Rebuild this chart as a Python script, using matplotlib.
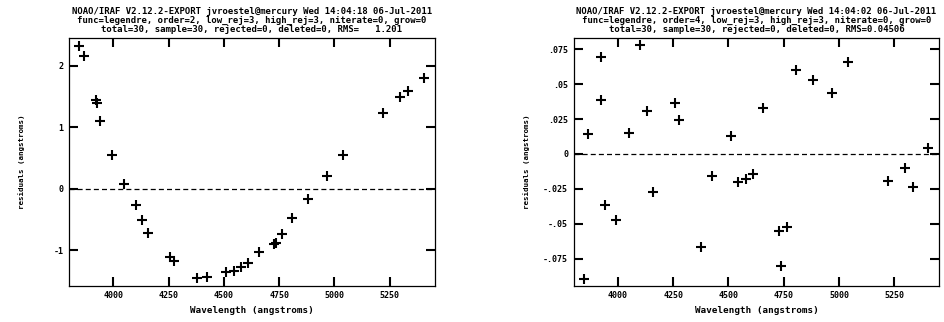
import numpy as np
import matplotlib
matplotlib.use("Agg")
from matplotlib import pyplot as plt

# wavelengths of the 30 lines (same in both fits)
wave = [3847, 3866, 3922, 3926, 3942, 3993, 4050, 4101, 4130, 4157,
        4257, 4275, 4378, 4426, 4511, 4544, 4578, 4609, 4658, 4728,
        4736, 4765, 4806, 4881, 4967, 5040, 5220, 5296, 5334, 5404]

# order=2 residuals
res2 = [2.32, 2.17, 1.45, 1.39, 1.10, 0.557, 0.076, -0.26, -0.50, -0.71,
        -1.10, -1.17, -1.45, -1.43, -1.35, -1.34, -1.27, -1.20, -1.03, -0.89,
        -0.88, -0.74, -0.47, -0.16, 0.21, 0.557, 1.23, 1.50, 1.60, 1.80]

# order=4 residuals
res4 = [-0.0891, 0.0146, 0.069, 0.0385, -0.0368, -0.0475, 0.0153, 0.0776, 0.031, -0.027,
        0.0365, 0.0241, -0.0666, -0.016, 0.0129, -0.020, -0.0179, -0.0146, 0.0332, -0.0549,
        -0.080, -0.0523, 0.0602, 0.053, 0.0435, 0.0659, -0.0193, -0.0103, -0.0234, 0.0045]

titles = [
    "NOAO/IRAF V2.12.2-EXPORT jvroestel@mercury Wed 14:04:18 06-Jul-2011\n"
    "func=legendre, order=2, low_rej=3, high_rej=3, niterate=0, grow=0\n"
    "total=30, sample=30, rejected=0, deleted=0, RMS=   1.201",
    "NOAO/IRAF V2.12.2-EXPORT jvroestel@mercury Wed 14:04:02 06-Jul-2011\n"
    "func=legendre, order=4, low_rej=3, high_rej=3, niterate=0, grow=0\n"
    "total=30, sample=30, rejected=0, deleted=0, RMS=0.04506",
]
xticks = [4000, 4250, 4500, 4750, 5000, 5250]
yticks2 = [-1, 0, 1, 2]
ylabels2 = ["-1", "0", "1", "2"]
yticks4 = [-0.075, -0.05, -0.025, 0, 0.025, 0.05, 0.075]
ylabels4 = ["-.075", "-.05", "-.025", "0", ".025", ".05", ".075"]

plt.rcParams['font.family'] = ['DejaVu Sans Mono', 'Liberation Mono']
plt.rcParams['font.weight'] = 'bold'

fig = plt.figure(figsize=(9.45, 3.22), dpi=100)
ax1 = fig.add_axes([0.073, 0.112, 0.387, 0.770])
ax2 = fig.add_axes([0.607, 0.112, 0.387, 0.770])

panels = [(ax1, res2, yticks2, ylabels2, (-1.577, 2.455), titles[0]),
          (ax2, res4, yticks4, ylabels4, (-0.0943, 0.0829), titles[1])]

for ax, res, yt, yl, ylim, title in panels:
    ax.plot(wave, res, '+', color='black', markersize=6.5, markeredgewidth=1.5)
    ax.axhline(0, color='black', linestyle=(0, (4, 2.5)), linewidth=0.9)
    ax.set_xlim(3800, 5453)
    ax.set_ylim(*ylim)
    ax.set_xticks(xticks)
    ax.set_xticklabels([str(v) for v in xticks])
    ax.set_yticks(yt)
    ax.set_yticklabels(yl)
    ax.tick_params(direction='in', length=6.5, width=1.5, top=True, right=True,
                   labelsize=6.0, pad=4)
    for s in ax.spines.values():
        s.set_linewidth(0.9)
    ax.set_xlabel("Wavelength (angstroms)", fontsize=6.7, fontweight='bold')
    ax.xaxis.set_label_coords(0.5, -0.101)
    ax.xaxis.label.set_va('center')
    ax.set_ylabel("residuals (angstroms)", fontsize=5.4, fontweight='bold')
    ax.yaxis.set_label_coords(-0.129, 0.5)
    ax.yaxis.label.set_va('center')
    ax.set_title(title, fontsize=6.5, fontweight='bold', linespacing=1.05, pad=4)

fig.savefig("out.png", dpi=100)
